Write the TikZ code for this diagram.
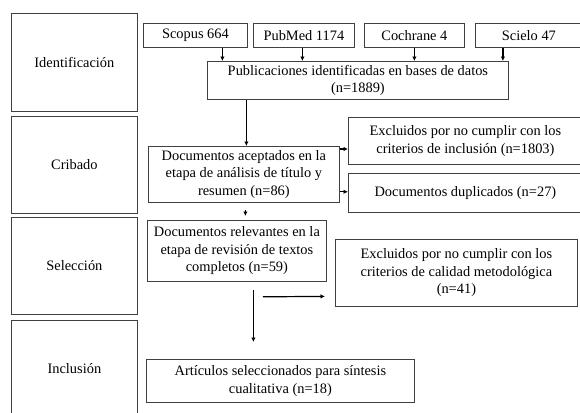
\documentclass[tikz,border=0pt]{standalone}
\usepackage{fontspec}
\setmainfont{Liberation Serif}
\usetikzlibrary{calc,arrows.meta}
\begin{document}
\begin{tikzpicture}[x=1pt,y=-1pt,
  box/.style={draw=black!75, line width=0.8pt, anchor=north west, inner sep=0pt, align=center,
    font=\fontsize{14.4}{17.5}\selectfont},
  arr/.style={line width=1.2pt, -{Latex[length=4.5pt,width=4.5pt]}}]
\useasboundingbox (0,0) rectangle (580,412);
\fill[white] (0,0) rectangle (580,412);
% phase boxes
\node[box, minimum width=126pt, minimum height=98pt] (ident) at (11,13) {Identificación};
\node[box, minimum width=126pt, minimum height=97pt] (crib) at (11,116) {Cribado};
\node[box, minimum width=126pt, minimum height=97pt] (sel) at (11,217) {Selección};
\node[box, minimum width=126pt, minimum height=96pt] (incl) at (11,320) {Inclusión};
% sources
\node[box, minimum width=104pt, minimum height=24pt] (scopus) at (143,23) {Scopus 664};
\node[box, minimum width=101pt, minimum height=24pt] (pubmed) at (253,23) {PubMed 1174};
\node[box, minimum width=100pt, minimum height=24pt] (cochrane) at (364,23) {Cochrane 4};
\node[box, minimum width=107pt, minimum height=24pt] (scielo) at (475,23) {Scielo 47};
\node[box, minimum width=301pt, minimum height=38pt] (pub) at (207,61) {Publicaciones identificadas en bases de datos\\(n=1889)};
\node[box, minimum width=191pt, minimum height=56pt] (acept) at (148,146) {Documentos aceptados en la\\etapa de análisis de título y\\resumen (n=86)};
\node[box, minimum width=234pt, minimum height=47pt] (excl1) at (348,117) {Excluidos por no cumplir con los\\criterios de inclusión (n=1803)};
\node[box, minimum width=234pt, minimum height=39pt] (dup) at (348,173) {Documentos duplicados (n=27)};
\node[box, minimum width=179pt, minimum height=61pt] (relev) at (147,220) {Documentos relevantes en la\\etapa de revisión de textos\\completos (n=59)};
\node[box, minimum width=242pt, minimum height=67pt] (excl2) at (335,239) {Excluidos por no cumplir con los\\criterios de calidad metodológica\\(n=41)};
\node[box, minimum width=268pt, minimum height=43pt] (art) at (146,359) {Artículos seleccionados para síntesis\\cualitativa (n=18)};
% arrows
\draw[arr] ([xshift=27pt]scopus.south) -- ([xshift=27pt]scopus.south |- pub.north);
\draw[arr] ([xshift=-1.5pt]pubmed.south) -- ([xshift=-1.5pt]pubmed.south |- pub.north);
\draw[arr] (cochrane.south) -- (cochrane.south |- pub.north);
\draw[arr] ([xshift=-26pt]scielo.south) -- ([xshift=-26pt]scielo.south |- pub.north);
\draw[arr] ([xshift=2.5pt]acept.north |- pub.south) -- ([xshift=2.5pt]acept.north);
\draw[arr] ([yshift=-3pt]acept.north east) -- ([yshift=-3pt]acept.north east -| excl1.west);
\draw[arr] ([yshift=11pt]acept.south east) -- ([yshift=11pt]acept.south east -| dup.west);
\coordinate (s1) at ($(acept.south)+(1.5,7)$);
\coordinate (e1) at ($(relev.north)+(0,-4)$);
\draw[arr] (s1) -- (s1 |- e1);
\coordinate (s2) at ($(relev.south)+(16.5,8)$);
\coordinate (e2) at ($(art.north)+(0,-17)$);
\draw[arr] (s2) -- (s2 |- e2);
\draw[arr] ($(relev.south east)+(-64,15)$) -- ($(excl2.west)+(-10,23.5)$);
\end{tikzpicture}
\end{document}
